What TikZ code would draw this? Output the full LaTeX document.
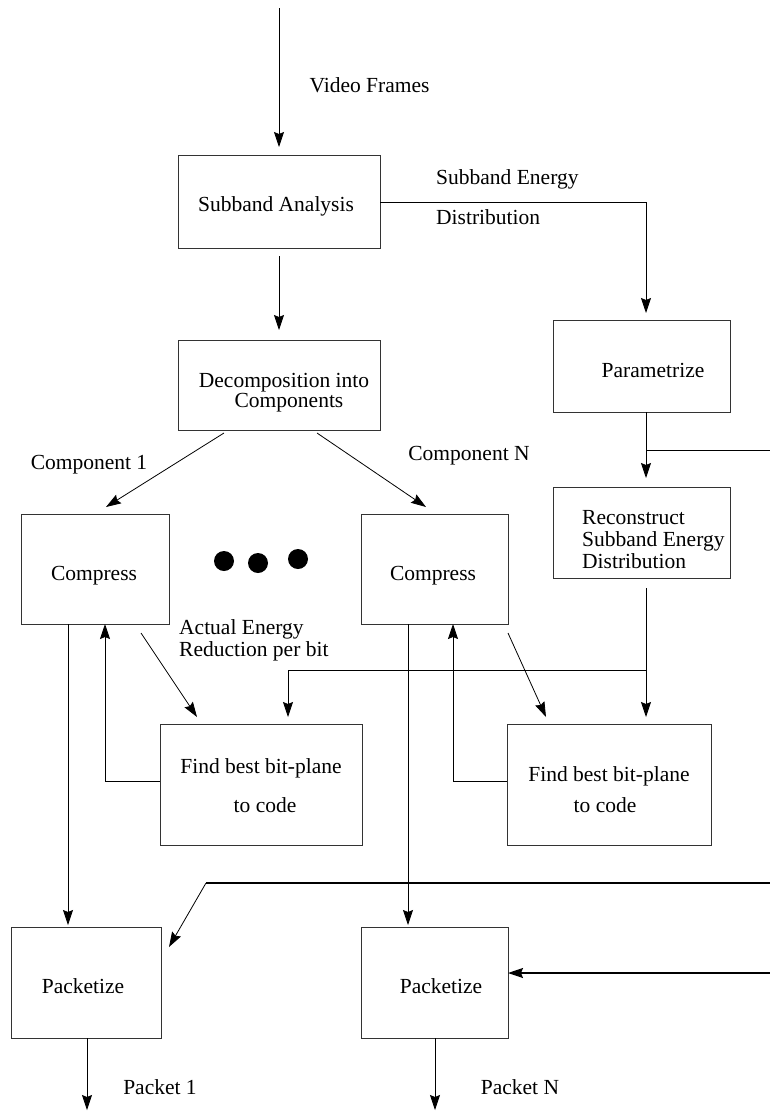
\documentclass[tikz,border=0pt]{standalone}
\usepackage{fontspec}
\setmainfont{Liberation Serif}
\usetikzlibrary{arrows.meta,calc}
\begin{document}
\begin{tikzpicture}[x=1pt,y=-1pt,
  box/.style={draw=black!80, line width=0.9pt, inner sep=0pt, outer sep=0pt},
  txt/.style={font=\fontsize{21.5}{22}\selectfont, anchor=base, inner sep=0pt},
  arr/.style={line width=0.8pt, -{Stealth[length=15pt,width=10pt,inset=2pt]}},
  wire/.style={line width=0.8pt},
  heavywire/.style={line width=1.5pt},
  heavy/.style={line width=1.5pt, -{Stealth[length=15pt,width=10pt,inset=2pt]}},
  dot/.style={circle, fill=black, inner sep=0pt, minimum size=20pt}]
\useasboundingbox (0,0) rectangle (770,1112);

% blocks
\node[box, minimum width=202pt, minimum height=93pt]  (sa)  at (279,201.5) {};
\node[box, minimum width=202pt, minimum height=90pt]  (dec) at (279,385) {};
\node[box, minimum width=177pt, minimum height=92pt]  (par) at (641.5,366) {};
\node[box, minimum width=177pt, minimum height=91pt]  (rec) at (641.5,532.5) {};
\node[box, minimum width=148pt, minimum height=110pt] (c1)  at (95,569) {};
\node[box, minimum width=147pt, minimum height=110pt] (cN)  at (434.5,569) {};
\node[box, minimum width=202pt, minimum height=121pt] (f1)  at (261,784.5) {};
\node[box, minimum width=204pt, minimum height=121pt] (fN)  at (609,784.5) {};
\node[box, minimum width=150pt, minimum height=111pt] (p1)  at (86,982.5) {};
\node[box, minimum width=147pt, minimum height=111pt] (pN)  at (434.5,982.5) {};

% block texts
\node[txt] (t-sa)   at (276,211) {Subband Analysis};
\node[txt] (t-dec1) at (284,387) {Decomposition into};
\node[txt] (t-dec2) at (289,407) {Components};
\node[txt] (t-par)  at (653,377) {Parametrize};
\node[txt, anchor=base west] (t-rec1) at (582,524) {Reconstruct};
\node[txt, anchor=base west] (t-rec2) at (582,546) {Subband Energy};
\node[txt, anchor=base west] (t-rec3) at (582,568) {Distribution};
\node[txt] (t-c1)   at (94,580)  {Compress};
\node[txt] (t-cN)   at (433,580) {Compress};
\node[txt] (t-f1a)  at (261,773) {Find best bit-plane};
\node[txt] (t-f1b)  at (265,812) {to code};
\node[txt] (t-fNa)  at (609,781) {Find best bit-plane};
\node[txt] (t-fNb)  at (605,812) {to code};
\node[txt] (t-p1)   at (83,993)  {Packetize};
\node[txt] (t-pN)   at (441,993) {Packetize};

% connector labels
\node[txt] (l-vf) at (369.5,92) {Video Frames};
\node[txt, anchor=base west] (l-se1) at (436,184) {Subband Energy};
\node[txt, anchor=base west] (l-se2) at (436,224) {Distribution};
\node[txt] (l-c1) at (89,469)  {Component 1};
\node[txt] (l-cN) at (469,460) {Component N};
\node[txt, anchor=base west] (l-ae1) at (179,634) {Actual Energy};
\node[txt, anchor=base west] (l-ae2) at (179,656) {Reduction per bit};
\node[txt] (l-p1) at (160,1094) {Packet 1};
\node[txt] (l-pN) at (520,1094) {Packet N};

% dots between the component branches
\node[dot] (d1) at (224,561) {};
\node[dot] (d2) at (258,563) {};
\node[dot] (d3) at (298,559) {};

% free ends
\coordinate (src) at (279,8);
\coordinate (e1) at (770,450);
\coordinate (e2) at (770,883);
\coordinate (b2) at (206,883);
\coordinate (e3) at (770,973);
\coordinate (o1) at (87,1110);
\coordinate (oN) at (435,1110);
\coordinate (j1) at ($(par.south)+(4.5,38)$);
\coordinate (j2) at ($(rec.south)+(4.5,92)$);

% main chain
\draw[arr, shorten >=8pt] (src) -- (sa.north);
\draw[arr, shorten <=8pt, shorten >=10pt] (sa.south) -- (dec.north);
\draw[arr, shorten >=7pt] ([yshift=-0.5pt]sa.east) -| ([xshift=4.5pt]par.north);
\draw[arr, shorten >=9pt] ([xshift=4.5pt]par.south) -- ([xshift=4.5pt]rec.north);
\draw[wire] (j1) -- (e1);
\draw[arr, shorten <=10pt, shorten >=7pt] ([xshift=4.5pt]rec.south) -- ([xshift=37pt]fN.north);
\draw[arr, shorten >=7pt] (j2) -| ([xshift=27pt]f1.north);

% component branches
\draw[arr] ([xshift=-55pt,yshift=-3pt]dec.south) -- ([xshift=11pt,yshift=7pt]c1.north);
\draw[arr] ([xshift=38pt,yshift=-3pt]dec.south) -- ([xshift=-8.5pt,yshift=7pt]cN.north);
\draw[arr] ([xshift=46pt,yshift=-9pt]c1.south) -- ([xshift=-64pt,yshift=7pt]f1.north);
\draw[arr] ([yshift=-9pt]cN.south east) -- ([xshift=-63pt,yshift=7pt]fN.north);

% bit-plane feedback
\draw[arr] ([yshift=3.5pt]f1.west) -| ([xshift=10pt]c1.south);
\draw[arr] ([yshift=3.5pt]fN.west) -| ([xshift=18.5pt]cN.south);

% to packetizers
\draw[arr, shorten >=2pt] ([xshift=-27pt]c1.south) -- ([xshift=-18pt]p1.north);
\draw[arr, shorten >=2pt] ([xshift=-26.5pt]cN.south) -- ([xshift=-26.5pt]pN.north);
\draw[heavywire] (e2) -- (b2);
\draw[arr] (b2) -- ([xshift=8pt,yshift=-20pt]p1.north east);
\draw[heavy] (e3) -- ([yshift=9.5pt]pN.east);

% outputs
\draw[arr] ([xshift=1pt]p1.south) -- (o1);
\draw[arr] ([xshift=0.5pt]pN.south) -- (oN);
\end{tikzpicture}
\end{document}
